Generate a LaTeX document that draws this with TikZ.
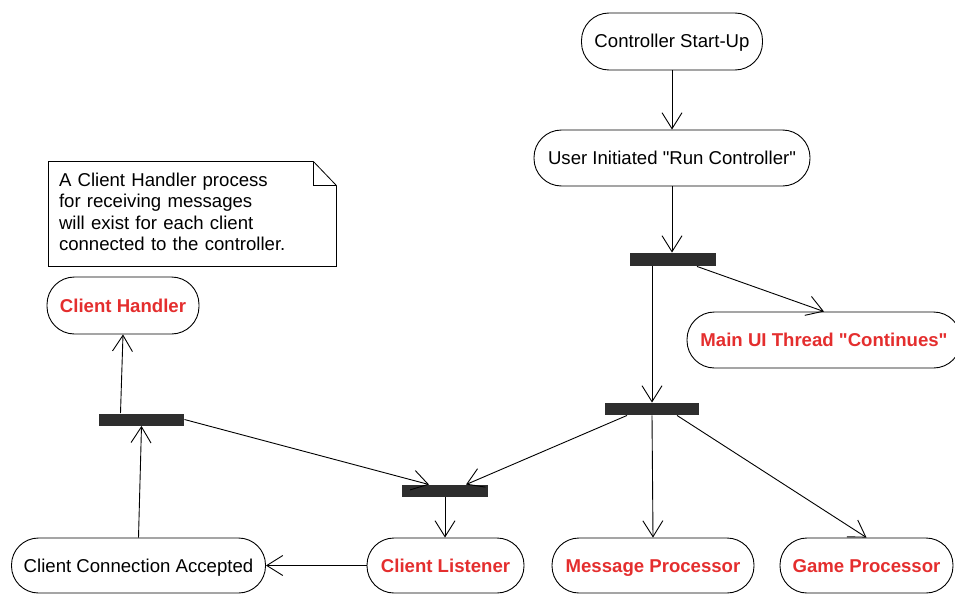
\documentclass[tikz,border=0pt]{standalone}
\usepackage{fontspec}
\setmainfont{Liberation Sans}
\usetikzlibrary{arrows.meta}
\definecolor{actred}{RGB}{228,46,46}
\definecolor{barfill}{RGB}{46,46,46}
\begin{document}
\begin{tikzpicture}[x=1pt,y=-1pt,
  line width=0.9pt,
  every node/.style={font=\fontsize{18.6}{21.3}\selectfont},
  activity/.style={draw, line width=0.9pt, rounded corners=27.5pt, minimum height=56pt, inner sep=0pt,
    text height=15.4pt, text depth=2.4pt},
  redact/.style={activity, text=actred, font=\fontsize{18.6}{21.3}\selectfont\bfseries},
  syncbar/.style={fill=barfill, draw=none, minimum height=12pt, inner sep=0pt},
  flow/.style={-{Straight Barb[length=16pt,width=20pt,line width=0.9pt]}}
]
\useasboundingbox (0,0) rectangle (955,594);

% activities
\node[activity, minimum width=181pt, minimum height=57pt] (start) at (672,41.5) {Controller Start-Up};
\node[activity, minimum width=276pt] (user) at (672,158) {User Initiated \textquotedbl Run Controller\textquotedbl};
\node[redact, minimum width=274pt] (main) at (824,340) {Main UI Thread \textquotedbl Continues\textquotedbl};
\node[redact, minimum width=152pt, minimum height=57pt] (handler) at (123,305.5) {Client Handler};
\node[activity, minimum width=254pt, minimum height=55pt, rounded corners=27pt] (accepted) at (138.5,565.5) {Client Connection Accepted};
\node[redact, minimum width=157pt, minimum height=55pt, rounded corners=27pt] (listener) at (445.5,565.5) {Client Listener};
\node[redact, minimum width=202pt, minimum height=55pt, rounded corners=27pt] (msg) at (653,565.5) {Message Processor};
\node[redact, minimum width=173pt, minimum height=55pt, rounded corners=27pt] (game) at (866.5,565.5) {Game Processor};

% fork / join bars
\node[syncbar, minimum width=86pt, minimum height=13pt] (fork1) at (673,259.5) {};
\node[syncbar, minimum width=94pt] (fork2) at (652,409) {};
\node[syncbar, minimum width=85pt] (fork3) at (141.5,419.5) {};
\node[syncbar, minimum width=86pt] (fork4) at (445,491) {};

% note with folded corner
\node[minimum width=287pt, minimum height=104pt, text width=267pt, inner xsep=10pt, align=left, yshift=2pt] (note) at (192.5,214)
  {A Client Handler process\\for receiving messages\\will exist for each client\\connected to the controller.};
\coordinate (nnw) at ([yshift=-2pt]note.north west);
\coordinate (nne) at ([yshift=-2pt]note.north east);
\coordinate (nsw) at ([yshift=-2pt]note.south west);
\coordinate (nse) at ([yshift=-2pt]note.south east);
\coordinate (foldA) at ([xshift=-23pt]nne);
\coordinate (foldB) at ([yshift=-24pt]nne);
\draw[line width=0.8pt, line join=miter] (nnw) -- (foldA) -- (foldB) -- (nse) -- (nsw) -- cycle;
\draw[line width=0.8pt] (foldA) |- (foldB);

% control flow
\draw[flow] (start.south) -- (user.north);
\draw[flow] (user.south) -- (fork1.north -| user.south);
\draw[flow] ([xshift=24pt]fork1.south) -- (main.north);
\draw[flow] (fork1.south -| fork2.north) -- (fork2.north);
\draw[flow] ([xshift=-25pt]fork2.south) -- ([xshift=21pt]fork4.north);
\draw[flow] (fork2.south) -- (msg.north);
\draw[flow] ([xshift=25pt]fork2.south) -- (game.north);
\draw[flow] (fork3.east) -- ([xshift=-16pt]fork4.north);
\draw[flow] (fork4.south) -- (fork4.south |- listener.north);
\draw[flow] (listener.west) -- (accepted.east);
\draw[flow] (accepted.north) -- (fork3.south);
\draw[flow] ([xshift=-21pt]fork3.north) -- (handler.south);
\end{tikzpicture}
\end{document}
